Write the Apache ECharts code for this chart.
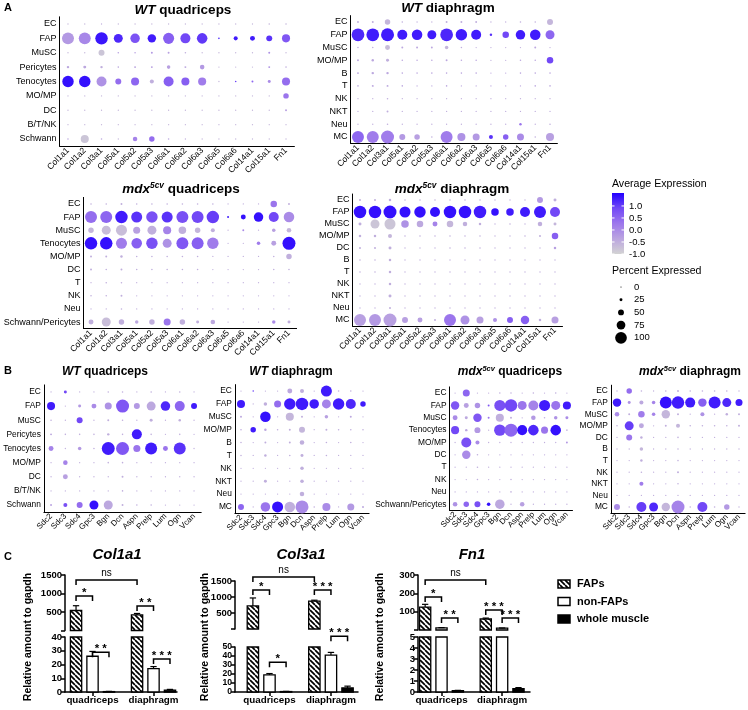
<!DOCTYPE html>
<html><head><meta charset="utf-8">
<script src="https://cdn.jsdelivr.net/npm/echarts@6/dist/echarts.min.js"></script>
<style>html,body{margin:0;padding:0;background:#fff}#c{width:748px;height:710px}</style>
</head><body><div id="c"></div><script>
const FONT = '"Liberation Sans", Arial, Helvetica, sans-serif';

// ---------- Panel A / B categories ----------
const genesA = ['Col1a1','Col1a2','Col3a1','Col5a1','Col5a2','Col5a3','Col6a1','Col6a2','Col6a3','Col6a5','Col6a6','Col14a1','Col15a1','Fn1'];
const genesB = ['Sdc2','Sdc3','Sdc4','Gpc3','Bgn','Dcn','Aspn','Prelp','Lum','Ogn','Vcan'];

// A1 WT quadriceps
const rowsA1 = ['EC','FAP','MuSC','Pericytes','Tenocytes','MO/MP','DC','B/T/NK','Schwann'];
const pctA1 = [
 [8,8,8,8,8,8,8,8,8,6,6,6,12,12],
 [92,92,96,69,73,65,85,77,81,12,31,38,46,62],
 [8,8,46,12,12,15,15,12,8,6,6,8,15,8],
 [19,23,19,12,15,15,27,15,35,6,6,8,15,12],
 [88,88,77,46,62,31,77,62,62,6,12,15,23,62],
 [8,8,8,8,8,8,8,8,8,6,6,6,8,42],
 [8,8,8,8,8,8,8,8,8,6,6,6,8,15],
 [8,8,8,8,8,8,8,8,8,6,6,6,8,8],
 [12,62,12,8,35,42,12,8,8,6,6,6,8,8]];
const expA1 = [
 [-0.6,-0.6,-0.5,-0.6,-0.6,-0.6,-0.6,-0.6,-0.6,-0.6,-0.6,-0.6,-0.6,-0.6],
 [-0.2,0.05,1.35,1.2,0.75,1.3,0.6,0.9,1.05,1.3,1.3,1.3,1.1,0.7],
 [-0.6,-0.6,-0.8,-0.3,-0.3,-0.2,-0.3,-0.5,-0.6,-0.6,-0.6,-0.6,-0.1,-0.6],
 [-0.4,-0.4,-0.5,-0.4,-0.4,-0.3,-0.3,-0.4,-0.2,-0.6,-0.6,-0.6,-0.1,-0.5],
 [1.4,1.4,-0.1,0.4,0.5,-0.5,0.6,0.6,0.2,-0.6,1.0,0.5,0.0,0.4],
 [-0.6,-0.6,-0.6,-0.6,-0.6,-0.6,-0.6,-0.6,-0.6,-0.6,-0.6,-0.6,-0.6,0.3],
 [-0.6,-0.6,-0.6,-0.6,-0.6,-0.6,-0.6,-0.6,-0.6,-0.6,-0.6,-0.6,-0.6,-0.3],
 [-0.6,-0.6,-0.6,-0.6,-0.6,-0.6,-0.6,-0.6,-0.6,-0.6,-0.6,-0.6,-0.6,-0.6],
 [-0.4,-0.8,-0.4,-0.6,0.1,0.4,-0.4,-0.5,-0.6,-0.6,-0.6,-0.6,-0.6,-0.6]];

// A2 WT diaphragm
const rowsA2 = ['EC','FAP','MuSC','MO/MP','B','T','NK','NKT','Neu','MC'];
const pctA2 = [
 [15,15,42,12,8,8,15,15,15,8,8,12,12,46],
 [98,98,100,77,81,69,98,88,77,19,50,73,81,69],
 [12,12,38,15,15,15,27,12,8,8,8,8,15,8],
 [15,19,23,12,12,12,15,12,12,8,8,12,12,50],
 [15,19,19,12,12,12,12,12,12,8,8,12,12,12],
 [12,15,15,12,8,8,12,8,8,8,8,8,12,12],
 [8,8,12,8,8,8,8,8,8,8,8,8,8,8],
 [8,8,15,8,8,8,8,8,8,8,8,8,8,8],
 [8,8,12,8,8,8,8,8,8,8,8,19,8,12],
 [92,92,100,46,42,12,92,62,54,31,42,54,12,62]];
const expA2 = [
 [-0.5,-0.5,-0.6,-0.5,-0.5,-0.5,-0.5,-0.5,-0.5,-0.5,-0.5,-0.5,-0.5,-0.6],
 [1.2,1.3,1.3,1.3,1.3,1.3,1.2,1.3,1.3,1.1,0.9,1.3,1.3,0.5],
 [-0.5,-0.5,-0.7,-0.4,-0.4,-0.4,-0.6,-0.5,-0.5,-0.5,-0.5,-0.5,-0.4,-0.5],
 [-0.4,-0.4,-0.5,-0.4,-0.4,-0.4,-0.4,-0.4,-0.4,-0.5,-0.5,-0.4,-0.4,0.9],
 [-0.4,-0.4,-0.4,-0.4,-0.4,-0.4,-0.4,-0.4,-0.4,-0.4,-0.4,-0.4,-0.4,-0.4],
 [-0.4,-0.4,-0.4,-0.4,-0.4,-0.4,-0.4,-0.4,-0.4,-0.4,-0.4,-0.4,-0.4,-0.4],
 [-0.5,-0.5,-0.5,-0.5,-0.5,-0.5,-0.5,-0.5,-0.5,-0.5,-0.5,-0.5,-0.5,-0.5],
 [-0.5,-0.5,-0.5,-0.5,-0.5,-0.5,-0.5,-0.5,-0.5,-0.5,-0.5,-0.5,-0.5,-0.5],
 [-0.5,-0.5,-0.5,-0.5,-0.5,-0.5,-0.5,-0.5,-0.5,-0.5,-0.5,0.3,-0.5,-0.5],
 [0.5,0.2,0.2,-0.2,-0.3,-0.5,0.2,-0.1,-0.2,1.1,0.6,0.0,-0.5,-0.3]];

// A3 mdx5cv quadriceps
const rowsA3 = ['EC','FAP','MuSC','Tenocytes','MO/MP','DC','T','NK','Neu','Schwann/Pericytes'];
const pctA3 = [
 [12,12,15,12,12,12,12,12,12,8,8,8,50,15],
 [92,92,96,85,88,85,92,92,96,15,38,73,77,81],
 [42,69,85,54,69,62,58,42,31,8,15,8,27,35],
 [96,96,85,81,88,69,92,92,88,8,8,27,38,100],
 [15,15,19,12,12,12,12,12,8,8,8,8,12,42],
 [15,12,15,12,12,12,12,12,8,8,8,8,12,12],
 [8,12,12,8,8,8,8,8,8,8,8,8,8,8],
 [12,12,15,8,8,8,8,8,8,8,8,8,8,8],
 [8,8,12,8,8,8,8,8,8,8,8,8,8,8],
 [38,69,42,27,42,54,42,23,35,8,8,8,27,23]];
const expA3 = [
 [-0.5,-0.5,-0.5,-0.5,-0.5,-0.5,-0.5,-0.5,-0.5,-0.5,-0.5,-0.5,0.3,-0.5],
 [0.4,0.5,1.3,1.1,0.8,1.1,0.8,0.9,1.0,1.3,1.4,1.4,0.9,0.0],
 [-0.6,-0.7,-0.7,-0.3,-0.5,0.1,-0.5,-0.6,-0.5,-0.5,0.0,-0.5,-0.3,-0.6],
 [1.4,1.4,0.2,0.6,0.8,-0.1,0.7,0.6,0.2,-0.5,-0.5,0.2,-0.3,1.4],
 [-0.5,-0.5,-0.5,-0.5,-0.5,-0.5,-0.5,-0.5,-0.5,-0.5,-0.5,-0.5,-0.5,-0.5],
 [-0.5,-0.5,-0.5,-0.5,-0.5,-0.5,-0.5,-0.5,-0.5,-0.5,-0.5,-0.5,-0.5,-0.5],
 [-0.5,-0.5,-0.5,-0.5,-0.5,-0.5,-0.5,-0.5,-0.5,-0.5,-0.5,-0.5,-0.5,-0.5],
 [-0.5,-0.5,-0.5,-0.5,-0.5,-0.5,-0.5,-0.5,-0.5,-0.5,-0.5,-0.5,-0.5,-0.5],
 [-0.5,-0.5,-0.5,-0.5,-0.5,-0.5,-0.5,-0.5,-0.5,-0.5,-0.5,-0.5,-0.5,-0.5],
 [-0.5,-0.7,-0.5,-0.4,-0.5,0.3,-0.5,-0.5,-0.4,-0.5,-0.5,-0.5,0.0,-0.5]];

// A4 mdx5cv diaphragm
const rowsA4 = ['EC','FAP','MuSC','MO/MP','DC','B','T','NK','NKT','Neu','MC'];
const pctA4 = [
 [15,15,19,12,12,12,12,12,12,8,8,8,46,23],
 [96,96,100,85,88,77,96,96,96,58,58,77,92,77],
 [23,69,85,58,50,38,50,35,19,8,12,8,35,23],
 [19,19,31,12,12,12,12,12,12,8,8,12,15,50],
 [15,15,23,8,8,8,12,12,12,8,8,8,8,19],
 [12,12,19,8,8,8,8,8,8,8,8,8,8,8],
 [12,12,19,8,8,8,8,8,8,8,8,8,8,8],
 [8,8,19,8,8,8,8,8,8,8,8,8,8,8],
 [8,8,23,8,8,8,8,8,8,8,8,8,8,8],
 [8,8,15,8,8,8,8,8,8,8,8,8,8,8],
 [92,92,100,46,38,15,92,69,54,31,46,65,19,54]];
const expA4 = [
 [-0.5,-0.5,-0.5,-0.5,-0.5,-0.5,-0.5,-0.5,-0.5,-0.5,-0.5,-0.5,-0.2,-0.5],
 [1.4,1.4,1.4,1.4,1.4,1.4,1.4,1.4,1.3,1.4,1.3,1.3,1.3,0.9],
 [-0.5,-0.8,-0.8,-0.1,-0.4,0.1,-0.6,-0.5,-0.5,-0.5,-0.5,-0.5,-0.5,-0.6],
 [-0.5,-0.5,-0.6,-0.5,-0.5,-0.5,-0.5,-0.5,-0.5,-0.5,-0.5,-0.5,-0.5,0.6],
 [-0.5,-0.5,-0.5,-0.5,-0.5,-0.5,-0.5,-0.5,-0.5,-0.5,-0.5,-0.5,-0.5,-0.3],
 [-0.5,-0.5,-0.5,-0.5,-0.5,-0.5,-0.5,-0.5,-0.5,-0.5,-0.5,-0.5,-0.5,-0.5],
 [-0.5,-0.5,-0.5,-0.5,-0.5,-0.5,-0.5,-0.5,-0.5,-0.5,-0.5,-0.5,-0.5,-0.5],
 [-0.5,-0.5,-0.5,-0.5,-0.5,-0.5,-0.5,-0.5,-0.5,-0.5,-0.5,-0.5,-0.5,-0.5],
 [-0.5,-0.5,-0.5,-0.5,-0.5,-0.5,-0.5,-0.5,-0.5,-0.5,-0.5,-0.5,-0.5,-0.5],
 [-0.5,-0.5,-0.5,-0.5,-0.5,-0.5,-0.5,-0.5,-0.5,-0.5,-0.5,-0.5,-0.5,-0.5],
 [-0.3,-0.2,-0.3,-0.3,-0.3,-0.5,0.3,-0.1,-0.3,-0.1,0.6,0.6,-0.5,-0.3]];

// B1 WT quadriceps
const rowsB1 = ['EC','FAP','MuSC','Pericytes','Tenocytes','MO/MP','DC','B/T/NK','Schwann'];
const pctB1 = [
 [8,23,8,8,12,12,8,12,8,12,8],
 [62,8,23,38,54,100,46,69,73,77,46],
 [12,8,46,8,15,12,8,23,8,19,8],
 [15,12,12,12,19,12,77,12,8,12,8],
 [38,8,27,12,100,100,54,92,38,92,8],
 [8,35,8,8,12,12,8,8,8,8,8],
 [8,38,8,8,8,15,8,8,8,8,8],
 [8,8,8,8,8,12,8,8,8,8,8],
 [15,31,46,69,69,15,12,12,8,8,8]];
const expB1 = [
 [-0.5,0.9,-0.5,-0.5,-0.5,-0.5,-0.5,-0.5,-0.5,-0.5,-0.5],
 [1.3,-0.5,-0.2,0.0,-0.1,0.7,-0.2,-0.4,1.2,0.5,1.3],
 [-0.5,-0.5,0.9,-0.5,-0.5,-0.5,-0.5,-0.5,-0.5,-0.5,-0.5],
 [-0.4,-0.5,-0.5,-0.5,-0.5,-0.5,1.3,-0.5,-0.5,-0.5,-0.5],
 [0.1,-0.5,-0.2,-0.5,1.3,0.7,0.3,1.3,0.3,1.1,-0.5],
 [-0.5,0.1,-0.5,-0.5,-0.5,-0.5,-0.5,-0.5,-0.5,-0.5,-0.5],
 [-0.5,-0.3,-0.5,-0.5,-0.5,-0.5,-0.5,-0.5,-0.5,-0.5,-0.5],
 [-0.5,-0.5,-0.5,-0.5,-0.5,-0.5,-0.5,-0.5,-0.5,-0.5,-0.5],
 [-0.3,0.8,0.4,1.4,-0.4,-0.5,-0.5,-0.5,-0.5,-0.5,-0.5]];

// B2 WT diaphragm
const rowsB2 = ['EC','FAP','MuSC','MO/MP','B','T','NK','NKT','Neu','MC'];
const pctB2 = [
 [8,12,8,8,38,31,8,85,12,12,8],
 [62,8,27,54,88,96,73,69,88,77,42],
 [15,8,81,8,62,15,8,27,8,15,8],
 [12,42,19,12,15,46,8,15,12,12,12],
 [12,8,15,8,15,35,8,12,8,12,8],
 [12,8,19,8,12,23,8,12,8,8,8],
 [8,8,8,8,8,27,8,8,8,8,8],
 [8,8,23,8,8,27,8,8,8,8,8],
 [8,8,8,8,8,35,8,8,8,8,8],
 [46,8,73,85,81,100,12,62,8,54,15]];
const expB2 = [
 [-0.5,1.0,-0.5,-0.5,-0.4,-0.5,-0.5,1.3,-0.5,-0.5,-0.5],
 [1.3,-0.5,-0.5,0.4,1.3,1.3,1.3,0.1,1.3,1.2,1.3],
 [-0.4,-0.5,1.4,-0.5,-0.6,-0.5,-0.5,-0.3,-0.5,-0.4,-0.5],
 [-0.4,1.3,-0.4,-0.5,-0.5,-0.6,-0.5,-0.5,-0.5,-0.5,-0.5],
 [-0.5,-0.5,-0.5,-0.5,-0.5,-0.5,-0.5,-0.5,-0.5,-0.5,-0.5],
 [-0.5,-0.5,-0.5,-0.5,-0.5,-0.5,-0.5,-0.5,-0.5,-0.5,-0.5],
 [-0.5,-0.5,-0.5,-0.5,-0.5,-0.5,-0.5,-0.5,-0.5,-0.5,-0.5],
 [-0.5,-0.5,-0.5,-0.5,-0.5,-0.5,-0.5,-0.5,-0.5,-0.5,-0.5],
 [-0.5,-0.5,-0.5,-0.5,-0.5,-0.5,-0.5,-0.5,-0.5,-0.5,-0.5],
 [0.5,-0.5,0.3,1.4,-0.5,0.0,-0.5,0.0,-0.5,-0.2,-0.4]];

// B3 mdx5cv quadriceps
const rowsB3 = ['EC','FAP','MuSC','Tenocytes','MO/MP','DC','T','NK','Neu','Schwann/Pericytes'];
const pctB3 = [
 [8,54,8,8,12,12,8,12,8,12,8],
 [65,38,42,15,85,96,69,77,85,69,62],
 [38,23,65,15,62,15,8,35,12,27,23],
 [62,19,46,8,88,100,77,81,54,81,12],
 [8,77,31,8,8,8,8,8,8,8,15],
 [8,65,12,8,8,8,8,8,8,8,8],
 [8,8,12,8,8,8,8,8,8,8,8],
 [8,8,12,8,8,12,8,8,8,8,8],
 [8,8,8,8,8,12,8,8,8,8,8],
 [35,42,46,27,73,8,35,8,8,8,8]];
const expB3 = [
 [-0.5,0.5,-0.5,-0.5,-0.5,-0.5,-0.5,-0.5,-0.5,-0.5,-0.5],
 [0.7,-0.3,-0.1,0.7,0.8,0.9,0.3,0.1,1.3,0.3,1.3],
 [0.0,-0.4,0.7,0.3,-0.5,-0.5,-0.5,-0.2,-0.5,-0.1,0.0],
 [0.9,-0.4,-0.2,-0.5,0.9,0.5,1.4,1.2,0.3,1.4,-0.5],
 [-0.5,0.8,0.0,-0.5,-0.5,-0.5,-0.5,-0.5,-0.5,-0.5,-0.2],
 [-0.5,0.0,-0.5,-0.5,-0.5,-0.5,-0.5,-0.5,-0.5,-0.5,-0.5],
 [-0.5,-0.5,-0.5,-0.5,-0.5,-0.5,-0.5,-0.5,-0.5,-0.5,-0.5],
 [-0.5,-0.5,-0.5,-0.5,-0.5,-0.5,-0.5,-0.5,-0.5,-0.5,-0.5],
 [-0.5,-0.5,-0.5,-0.5,-0.5,-0.5,-0.5,-0.5,-0.5,-0.5,-0.5],
 [-0.1,0.5,0.8,1.4,-0.4,-0.5,-0.3,-0.5,-0.5,-0.5,-0.5]];

// B4 mdx5cv diaphragm
const rowsB4 = ['EC','FAP','MuSC','MO/MP','DC','B','T','NK','NKT','Neu','MC'];
const pctB4 = [
 [8,42,12,8,12,15,12,12,12,12,8],
 [65,23,31,27,92,96,77,65,92,69,54],
 [35,15,50,27,65,15,8,31,8,19,15],
 [12,69,38,8,15,31,12,12,12,12,15],
 [8,46,19,8,8,12,8,8,8,8,8],
 [8,8,27,8,8,12,8,8,8,8,8],
 [8,8,19,8,8,12,8,8,8,8,8],
 [8,8,12,8,8,15,8,8,8,8,8],
 [8,8,31,8,8,12,8,8,8,8,8],
 [8,8,8,8,8,8,8,8,8,8,8],
 [46,12,77,69,65,100,12,77,12,42,8]];
const expB4 = [
 [-0.5,0.4,-0.5,-0.5,-0.5,-0.5,-0.5,-0.5,-0.5,-0.5,-0.5],
 [1.3,-0.1,-0.4,0.1,1.4,1.3,1.3,0.6,1.3,1.2,1.3],
 [0.0,-0.5,0.2,0.1,-0.6,-0.5,-0.5,-0.1,-0.5,-0.5,-0.5],
 [-0.5,1.0,-0.4,-0.5,-0.5,-0.6,-0.5,-0.5,-0.5,-0.5,-0.5],
 [-0.5,0.3,-0.5,-0.5,-0.5,-0.5,-0.5,-0.5,-0.5,-0.5,-0.5],
 [-0.5,-0.5,-0.6,-0.5,-0.5,-0.5,-0.5,-0.5,-0.5,-0.5,-0.5],
 [-0.5,-0.5,-0.5,-0.5,-0.5,-0.5,-0.5,-0.5,-0.5,-0.5,-0.5],
 [-0.5,-0.5,-0.5,-0.5,-0.5,-0.5,-0.5,-0.5,-0.5,-0.5,-0.5],
 [-0.5,-0.5,0.2,-0.5,-0.5,-0.5,-0.5,-0.5,-0.5,-0.5,-0.5],
 [-0.5,-0.5,-0.5,-0.5,-0.5,-0.5,-0.5,-0.5,-0.5,-0.5,-0.5],
 [0.0,-0.5,1.0,1.2,-0.6,0.1,-0.5,0.9,-0.5,-0.2,-0.5]];

// Legend values
const legendExpTicks = [1.0, 0.5, 0.0, -0.5, -1.0];
const legendPct = [0, 25, 50, 75, 100];

// ---------- Panel C ----------
const groupsC = ['quadriceps','diaphragm'];
const barTypes = ['FAPs','non-FAPs','whole muscle'];
const col1a1Mean = [[540,420],[26,17],[0.3,1.3]];
const col1a1Err  = [[130,40],[3.5,1.5],[0.15,0.6]];
const col3a1Mean = [[720,870],[19,41],[0.5,4.5]];
const col3a1Err  = [[250,30],[1.5,3],[0.2,2]];
const fn1Mean = [[125,60],[12,10],[0.12,0.3]];
const fn1Err  = [[15,5],[1,1],[0.03,0.1]];
// [fromGroup, fromBar, toGroup, toBar, y, label, segment(0 upper / 1 lower)]
const col1a1Sig = [[1,0,2,0,1365,'ns',0],[1,0,1,1,930,'*',0],[2,0,2,1,660,'* *',0],[1,1,1,2,29,'* *',1],[2,1,2,2,24,'* * *',1]];
const col3a1Sig = [[1,0,2,0,1625,'ns',0],[1,0,1,1,1220,'*',0],[2,0,2,1,1220,'* * *',0],[1,1,1,2,33,'*',1],[2,1,2,2,62,'* * *',1]];
const fn1Sig    = [[1,0,2,0,273,'ns',0],[1,0,1,1,180,'*',0],[1,1,1,2,65,'* *',0],[2,0,2,1,109,'* * *',0],[2,1,2,2,65,'* * *',0]];

// ---------- helpers ----------
const colorStops = ['#D3D3D3','#BBA5E0','#9D77EC','#7248F6','#2200FF'];
const EXP_MIN = -1.0, EXP_MAX = 1.54;
function hex(h){return [parseInt(h.slice(1,3),16),parseInt(h.slice(3,5),16),parseInt(h.slice(5,7),16)];}
function expColor(v){
  let t=(v-EXP_MIN)/(EXP_MAX-EXP_MIN); t=Math.max(0,Math.min(1,t));
  const s=t*(colorStops.length-1); const i=Math.min(Math.floor(s),colorStops.length-2); const f=s-i;
  const a=hex(colorStops[i]), b=hex(colorStops[i+1]);
  return 'rgb('+a.map((x,k)=>Math.round(x+(b[k]-x)*f)).join(',')+')';
}
function dotSize(p){return Math.max(1.3, 13*p/100);}

const titleRich = (fs)=>({
  i:{fontStyle:'italic',fontWeight:'bold',fontSize:fs,fontFamily:FONT,fill:'#000'},
  s:{fontStyle:'italic',fontWeight:'bold',fontSize:fs*0.62,fontFamily:FONT,fill:'#000',verticalAlign:'top',padding:[0,0,fs*0.45,0]},
  n:{fontWeight:'bold',fontSize:fs,fontFamily:FONT,fill:'#000'}
});

const dotPlots = [
 {t:'{i|WT}{n| quadriceps}', tx:183, ty:10, tf:13.5, rows:rowsA1, genes:genesA, pct:pctA1, exp:expA1, box:[59.6,16.8,234.8,129.4], fs:8.6},
 {t:'{i|WT}{n| diaphragm}', tx:448, ty:8, tf:13.5, rows:rowsA2, genes:genesA, pct:pctA2, exp:expA2, box:[350.6,15.6,206.8,127.8], fs:8.6},
 {t:'{i|mdx}{s|5cv}{n| quadriceps}', tx:181, ty:189, tf:13.5, rows:rowsA3, genes:genesA, pct:pctA3, exp:expA3, box:[83.4,197.4,213.2,131.2], fs:8.6},
 {t:'{i|mdx}{s|5cv}{n| diaphragm}', tx:452, ty:189, tf:13.5, rows:rowsA4, genes:genesA, pct:pctA4, exp:expA4, box:[352.5,194,210,132], fs:8.6},
 {t:'{i|WT}{n| quadriceps}', tx:105, ty:372, tf:12, rows:rowsB1, genes:genesB, pct:pctB1, exp:expB1, box:[43.9,384.9,157.3,127.2], fs:8},
 {t:'{i|WT}{n| diaphragm}', tx:291, ty:372, tf:12, rows:rowsB2, genes:genesB, pct:pctB2, exp:expB2, box:[234.9,384.6,134.2,128.8], fs:8},
 {t:'{i|mdx}{s|5cv}{n| quadriceps}', tx:510, ty:372, tf:12, rows:rowsB3, genes:genesB, pct:pctB3, exp:expB3, box:[449.5,386.9,123,123.5], fs:8},
 {t:'{i|mdx}{s|5cv}{n| diaphragm}', tx:690, ty:372, tf:12, rows:rowsB4, genes:genesB, pct:pctB4, exp:expB4, box:[610.9,385.2,134.2,127.6], fs:8}
];

const grids=[], xAxes=[], yAxes=[], series=[], graphics=[];

dotPlots.forEach((d,k)=>{
  grids.push({left:d.box[0], top:d.box[1], width:d.box[2], height:d.box[3], containLabel:false, outerBoundsMode:'none'});
  xAxes.push({type:'category', gridIndex:k, data:d.genes, boundaryGap:true,
    axisLine:{lineStyle:{color:'#000',width:1}}, axisTick:{alignWithLabel:true,length:3,lineStyle:{color:'#000',width:1}},
    axisLabel:{rotate:45, interval:0, fontSize:d.fs, color:'#000', margin:3, fontFamily:FONT}, splitLine:{show:false}});
  yAxes.push({type:'category', gridIndex:k, data:d.rows, inverse:true, boundaryGap:true,
    axisLine:{lineStyle:{color:'#000',width:1}}, axisTick:{alignWithLabel:true,length:3,lineStyle:{color:'#000',width:1}},
    axisLabel:{interval:0, fontSize:d.fs+0.4, color:'#000', margin:3, fontFamily:FONT}, splitLine:{show:false}});
  const data=[];
  d.rows.forEach((r,ri)=>d.genes.forEach((g,gi)=>data.push([gi,ri,d.pct[ri][gi],d.exp[ri][gi]])));
  series.push({type:'scatter', xAxisIndex:k, yAxisIndex:k, data, symbol:'circle', silent:true,
    symbolSize:v=>dotSize(v[2]), itemStyle:{color:p=>expColor(p.value[3]), opacity:1}});
  graphics.push({type:'text', x:d.tx, y:d.ty, style:{text:d.t, rich:titleRich(d.tf), align:'center', verticalAlign:'middle', fontSize:d.tf, fontWeight:'bold', fontFamily:FONT}});
});

// Legend (panel A)
graphics.push({type:'text', x:612, y:184, style:{text:'Average Expression', fontSize:10.6, fontFamily:FONT, fill:'#000', verticalAlign:'middle'}});
const gTop=193, gBot=254;
graphics.push({type:'rect', shape:{x:612,y:gTop,width:12,height:gBot-gTop}, style:{fill:new echarts.graphic.LinearGradient(0,0,0,1,
  colorStops.slice().reverse().map((c,i)=>({offset:i/(colorStops.length-1), color:c})))}});
legendExpTicks.forEach(v=>{
  const y=gBot-(v-EXP_MIN)/(EXP_MAX-EXP_MIN)*(gBot-gTop);
  graphics.push({type:'line', shape:{x1:612,y1:y,x2:614.5,y2:y}, style:{stroke:'#fff',lineWidth:1}});
  graphics.push({type:'line', shape:{x1:621.5,y1:y,x2:624,y2:y}, style:{stroke:'#fff',lineWidth:1}});
  graphics.push({type:'text', x:629, y:y, style:{text:v.toFixed(1), fontSize:9.5, fontFamily:FONT, fill:'#000', verticalAlign:'middle'}});
});
graphics.push({type:'text', x:612, y:271, style:{text:'Percent Expressed', fontSize:10.6, fontFamily:FONT, fill:'#000', verticalAlign:'middle'}});
legendPct.forEach((p,i)=>{
  const y=287+i*12.7;
  graphics.push({type:'circle', shape:{cx:621,cy:y,r:dotSize(p)/2*0.9}, style:{fill:'#000'}});
  graphics.push({type:'text', x:634, y:y, style:{text:String(p), fontSize:9.5, fontFamily:FONT, fill:'#000', verticalAlign:'middle'}});
});

// Panel letters
[['A',4,8],['B',4,371],['C',4,557]].forEach(a=>graphics.push({type:'text', x:a[1], y:a[2], style:{text:a[0], fontSize:11, fontWeight:'bold', fontFamily:FONT, fill:'#000', verticalAlign:'middle'}}));

// ---------- Panel C charts ----------
function makeHatch(){
  const s=5, c=document.createElement('canvas'); c.width=s; c.height=s;
  const g=c.getContext('2d'); g.fillStyle='#fff'; g.fillRect(0,0,s,s);
  g.strokeStyle='#000'; g.lineWidth=1.7; g.beginPath();
  for(let o=-s;o<=s;o+=s){g.moveTo(o,0); g.lineTo(o+s,s);}
  g.stroke(); return c;
}
const hatch = {image:makeHatch(), repeat:'repeat'};
const barFills = [hatch, '#fff', '#000'];
const barOffsets = [-0.27, 0, 0.27];
const BAR_W = 0.185;

const cCharts = [
 {name:'Col1a1', mean:col1a1Mean, err:col1a1Err, sig:col1a1Sig, up:[0,1500,500], low:[0,40,10], left:65, width:112, upTop:575, upH:55.5, lowTop:637, lowH:55, xr:[0.549,2.385], tx:117, ytx:28, lfs:9.5},
 {name:'Col3a1', mean:col3a1Mean, err:col3a1Err, sig:col3a1Sig, up:[0,1500,500], low:[0,50,10], left:235, width:123, upTop:581, upH:48, lowTop:647, lowH:45, xr:[0.439,2.44], tx:301, ytx:205, lfs:8.6},
 {name:'Fn1', mean:fn1Mean, err:fn1Err, sig:fn1Sig, up:[0,300,100], low:[0,5,1], left:418, width:112, upTop:575, upH:55, lowTop:637, lowH:55, xr:[0.612,2.46], tx:472, ytx:380, lfs:9.5}
];

const axisLineC = {lineStyle:{color:'#000',width:1.5}};
const tickC = {length:4, lineStyle:{color:'#000',width:1.5}};
const labelC = {fontSize:9.5, fontWeight:'bold', color:'#000', fontFamily:FONT, margin:3};

function barRender(cfg, seg){
  const axMax = seg===0 ? cfg.up[1] : cfg.low[1];
  return function(params, api){
    const g=api.value(0), b=api.value(1), v=api.value(2), e=api.value(3);
    if(seg===0 && v<=cfg.low[1]) return {type:'group', children:[]};
    const x=g+barOffsets[b];
    const top=Math.min(v,axMax);
    const p0=api.coord([x,0]), p1=api.coord([x,top]);
    const w=api.size([BAR_W,0])[0];
    const ch=[{type:'rect', shape:{x:p0[0]-w/2, y:p1[1], width:w, height:Math.max(p0[1]-p1[1],0.6)},
      style:{fill:barFills[b], stroke:'#000', lineWidth:1.3}}];
    if(v+e<=axMax){
      const p2=api.coord([x,v+e]);
      ch.push({type:'line', shape:{x1:p1[0],y1:p1[1],x2:p2[0],y2:p2[1]}, style:{stroke:'#000',lineWidth:1.2}});
      ch.push({type:'line', shape:{x1:p2[0]-w*0.28,y1:p2[1],x2:p2[0]+w*0.28,y2:p2[1]}, style:{stroke:'#000',lineWidth:1.2}});
    }
    return {type:'group', children:ch};
  };
}
function sigRender(list){
  return function(params, api){
    const s=list[params.dataIndex];
    const a=api.coord([s[0]+barOffsets[s[1]], s[4]]), b=api.coord([s[2]+barOffsets[s[3]], s[4]]);
    const isNs = s[5]==='ns';
    return {type:'group', children:[
      {type:'polyline', shape:{points:[[a[0],a[1]+5],[a[0],a[1]],[b[0],b[1]],[b[0],b[1]+5]]}, style:{stroke:'#000',lineWidth:1.5,fill:null}},
      {type:'text', style:{x:(a[0]+b[0])/2, y:isNs? a[1]-2 : a[1]+3, text:s[5], align:'center', verticalAlign:'bottom',
        fontSize:isNs?10:11.5, fontWeight:isNs?'normal':'bold', fontFamily:FONT, fill:'#000'}}
    ]};
  };
}

cCharts.forEach(cfg=>{
  const barData=[];
  cfg.mean.forEach((row,b)=>row.forEach((v,gi)=>barData.push([gi+1,b,v,cfg.err[b][gi]])));
  [0,1].forEach(seg=>{
    const gi=grids.length;
    const top= seg===0?cfg.upTop:cfg.lowTop, h= seg===0?cfg.upH:cfg.lowH;
    grids.push({left:cfg.left, top, width:cfg.width, height:h, containLabel:false, outerBoundsMode:'none'});
    const rng = seg===0?cfg.up:cfg.low;
    xAxes.push({type:'value', gridIndex:gi, min:cfg.xr[0], max:cfg.xr[1], show:seg===1,
      axisLine:{show:true,...axisLineC}, splitLine:{show:false},
      axisTick:{show:true, customValues:[1,2], ...tickC},
      axisLabel:{...labelC, fontSize:9.8, customValues:[1,2], formatter:v=>groupsC[Math.round(v)-1]||''}});
    const fs = seg===1 ? cfg.lfs : 9.5;
    yAxes.push({type:'value', gridIndex:gi, min:rng[0], max:rng[1], interval:rng[2],
      axisLine:{show:true,...axisLineC}, axisTick:{show:true,...tickC}, splitLine:{show:false},
      axisLabel:{...labelC, fontSize:fs, lineHeight:fs-1, padding:0, showMaxLabel:true, showMinLabel:true, hideOverlap:false,
        formatter:v=> (seg===0 && v===0)?'':String(v)}});
    series.push({type:'custom', xAxisIndex:gi, yAxisIndex:gi, data:barData, renderItem:barRender(cfg,seg), clip:false, silent:true});
    const sl=cfg.sig.filter(s=>s[6]===seg);
    series.push({type:'custom', xAxisIndex:gi, yAxisIndex:gi, data:sl.map(s=>[s[0],s[1],s[2],s[3],s[4]]), renderItem:sigRender(sl), clip:false, silent:true, z:5});
  });
  graphics.push({type:'text', x:cfg.tx, y:555, style:{text:cfg.name, align:'center', verticalAlign:'middle', fontSize:15, fontWeight:'bold', fontStyle:'italic', fontFamily:FONT, fill:'#000'}});
  graphics.push({type:'text', x:cfg.ytx, y:637, rotation:Math.PI/2, style:{text:'Relative amount to gapdh', align:'center', verticalAlign:'middle', fontSize:10.5, fontWeight:'bold', fontFamily:FONT, fill:'#000'}});
});

// Panel C legend
barTypes.forEach((n,i)=>{
  const y=584+i*17.5;
  graphics.push({type:'rect', shape:{x:558,y:y-4,width:12,height:8}, style:{fill:barFills[i], stroke:'#000', lineWidth:1.5}});
  graphics.push({type:'text', x:577, y:y, style:{text:n, fontSize:11, fontWeight:'bold', fontFamily:FONT, fill:'#000', verticalAlign:'middle'}});
});

const chart = echarts.init(document.getElementById('c'), null, {renderer:'canvas'});
chart.setOption({animation:false, backgroundColor:'#fff', grid:grids, xAxis:xAxes, yAxis:yAxes, series, graphic:{elements:graphics}});
</script></body></html>
